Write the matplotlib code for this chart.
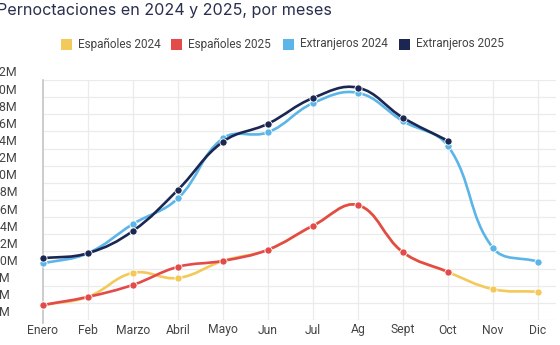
import numpy as np
import matplotlib
matplotlib.use("Agg")
import matplotlib.pyplot as plt
from matplotlib.path import Path
from matplotlib.patches import PathPatch, Rectangle
import matplotlib.transforms as mtransforms

# Monthly overnight stays, millions
months = ["Enero", "Feb", "Marzo", "Abril", "Mayo", "Jun", "Jul", "Ag", "Sept", "Oct", "Nov", "Dic"]
esp_2024 = [5.75, 6.7, 9.5, 8.9, 10.9, 12.2, 15.0, 17.4, 11.9, 9.6, 7.6, 7.3]
esp_2025 = [5.75, 6.7, 8.1, 10.2, 10.9, 12.2, 15.0, 17.4, 11.9, 9.6]
ext_2024 = [10.6, 11.8, 15.2, 18.2, 25.2, 25.9, 29.3, 30.5, 27.2, 24.3, 12.4, 10.8]
ext_2025 = [11.2, 11.8, 14.4, 19.2, 24.8, 26.9, 29.9, 31.1, 27.6, 24.9]
series_names = ["Españoles 2024", "Españoles 2025", "Extranjeros 2024", "Extranjeros 2025"]
y_ticks = list(range(4, 33, 2))

colors = ["#f3c95a", "#e34a4a", "#5bb5e8", "#1b2752"]
series = [esp_2024, esp_2025, ext_2024, ext_2025]

W, H = 560, 345
fig = plt.figure(figsize=(W / 100, H / 100), dpi=100)
fig.patch.set_facecolor("white")

left_px, right_px, top_px, bot_px = 43, 556, 80, 320
ax = fig.add_axes([left_px / W, 1 - bot_px / H, (right_px - left_px) / W, (bot_px - top_px) / H])
ax.set_xlim(0, 11.4)
ax.set_ylim(4, 32)
for s in ax.spines.values():
    s.set_visible(False)
ax.set_xticks([])
ax.set_yticks([])

grid_c = "#ebebeb"
for v in y_ticks:
    ax.axhline(v, color=grid_c, lw=0.9, zorder=0)
for i in range(1, len(months)):
    ax.axvline(i, color=grid_c, lw=0.9, zorder=0)
ax.plot([0, 0], [32, 3.7], color="#c4c4c4", lw=1.2, zorder=1, clip_on=False)


def spline_path(xs, ys, t=0.4):
    pts = ax.transData.transform(np.column_stack([xs, ys]))
    n = len(pts)
    cp_prev = np.zeros_like(pts)
    cp_next = np.zeros_like(pts)
    for i in range(n):
        cur = pts[i]
        prev = pts[i - 1] if i > 0 else cur
        nxt = pts[i + 1] if i < n - 1 else cur
        d01 = np.hypot(*(cur - prev))
        d12 = np.hypot(*(nxt - cur))
        tot = d01 + d12
        s01 = d01 / tot if tot else 0
        s12 = d12 / tot if tot else 0
        cp_prev[i] = cur - t * s01 * (nxt - prev)
        cp_next[i] = cur + t * s12 * (nxt - prev)
    verts = [pts[0]]
    codes = [Path.MOVETO]
    for i in range(n - 1):
        verts += [cp_next[i], cp_prev[i + 1], pts[i + 1]]
        codes += [Path.CURVE4] * 3
    verts = ax.transData.inverted().transform(np.array(verts))
    return Path(verts, codes)


for k, (vals, c) in enumerate(zip(series, colors)):
    xs = np.arange(len(vals))
    z = 3 + k
    ax.add_patch(PathPatch(spline_path(xs, vals), fill=False, edgecolor=c, lw=1.9,
                           capstyle="round", joinstyle="round", zorder=z))
    ax.plot(xs, vals, "o", ms=5.2, color=c, mec="white", mew=0.6, zorder=z + 0.5, clip_on=False)

# y-axis labels (left-aligned, partly outside the canvas)
ytrans = mtransforms.blended_transform_factory(fig.transFigure, ax.transData)
ytrans = mtransforms.offset_copy(ytrans, fig=fig, x=0, y=7, units="dots")
for v in y_ticks:
    fig.text(-7.5 / W, v, f"{v}M", transform=ytrans, ha="left", va="center",
             fontsize=8.9, color="#444444", family="Roboto")

# x-axis labels
for i, m in enumerate(months):
    ax.text(i, 4, m, transform=mtransforms.offset_copy(ax.transData, fig=fig, y=-10, units="dots"),
            ha="center", va="center", fontsize=8.7, color="#444444", family="Roboto")

# title
fig.text(-3 / W, 1 - 10 / H, "Pernoctaciones en 2024 y 2025, por meses", ha="left", va="center",
         fontsize=11.6, color="#2a2f4f", family="Inter")

# legend
leg_y = 44
box_x = [61, 171, 283, 399]
for bx, name, c in zip(box_x, series_names, colors):
    fig.patches.append(Rectangle((bx / W, 1 - (leg_y + 5.5) / H), 11 / W, 11 / H,
                                 transform=fig.transFigure, facecolor=c, edgecolor="none"))
    fig.text((bx + 17) / W, 1 - leg_y / H, name, ha="left", va="center",
             fontsize=8.5, color="#444444", family="Roboto")

fig.savefig("out.png", dpi=100, facecolor="white")
